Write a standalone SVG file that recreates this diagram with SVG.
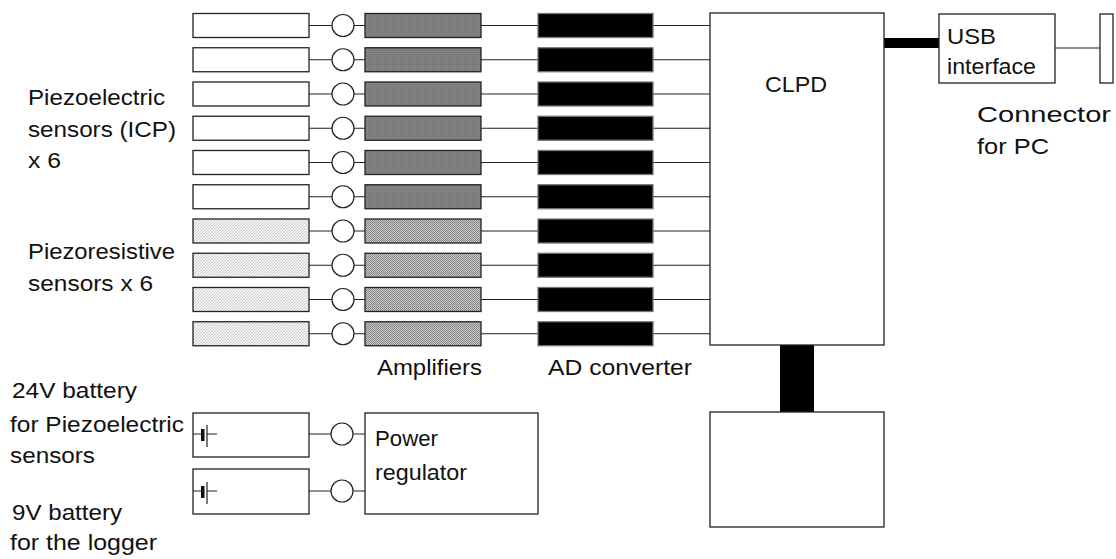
<svg xmlns="http://www.w3.org/2000/svg" width="1116" height="559" viewBox="0 0 1116 559">
<style>
.t{font-family:"Liberation Sans",Arial,sans-serif;font-size:22.5px;fill:#111}
.box{stroke:#222;stroke-width:1.3}
.w{fill:#fff}
.sens{fill:url(#hatch)}
.ampd{fill:url(#dots1)}
.ampl{fill:url(#dots2)}
.ad{fill:#000;stroke:#777;stroke-width:1.3}
.ln{stroke:#222;stroke-width:1.2;fill:none}
.c{fill:#fff;stroke:#222;stroke-width:1.2}
</style>
<defs>
<pattern id="hatch" width="3" height="3" patternUnits="userSpaceOnUse">
<rect width="3" height="3" fill="#f4f4f4"/>
<path d="M0,3 L3,0" stroke="#c2c2c2" stroke-width="0.8"/>
</pattern>
<pattern id="dots1" width="2" height="2" patternUnits="userSpaceOnUse">
<rect width="2" height="2" fill="#838383"/>
<rect width="1" height="1" fill="#717171"/>
</pattern>
<pattern id="dots2" width="2" height="2" patternUnits="userSpaceOnUse">
<rect width="2" height="2" fill="#c8c8c8"/>
<rect width="1" height="1" fill="#7e7e7e"/>
<rect x="1" y="1" width="1" height="1" fill="#909090"/>
</pattern>
</defs>
<rect width="1116" height="559" fill="#fff"/>

<g id="connectors">
<g class="ln">
<path d="M309,25.5H332M354,25.5H365M481,25.5H538M653,25.5H710"/>
<path d="M309,59.75H332M354,59.75H365M481,59.75H538M653,59.75H710"/>
<path d="M309,94H332M354,94H365M481,94H538M653,94H710"/>
<path d="M309,128.25H332M354,128.25H365M481,128.25H538M653,128.25H710"/>
<path d="M309,162.5H332M354,162.5H365M481,162.5H538M653,162.5H710"/>
<path d="M309,196.75H332M354,196.75H365M481,196.75H538M653,196.75H710"/>
<path d="M309,231H332M354,231H365M481,231H538M653,231H710"/>
<path d="M309,265.25H332M354,265.25H365M481,265.25H538M653,265.25H710"/>
<path d="M309,299.5H332M354,299.5H365M481,299.5H538M653,299.5H710"/>
<path d="M309,333.75H332M354,333.75H365M481,333.75H538M653,333.75H710"/>
<path d="M309,434H331M353,434H365"/>
<path d="M309,491H331M353,491H365"/>
<path d="M1055,48H1100"/>
</g>
<rect x="884" y="38" width="55" height="10" fill="#000"/>
<rect x="780" y="345" width="34" height="67" fill="#000"/>
<g id="junctions">
<circle class="c" cx="343" cy="25.5" r="11"/>
<circle class="c" cx="343" cy="59.75" r="11"/>
<circle class="c" cx="343" cy="94" r="11"/>
<circle class="c" cx="343" cy="128.25" r="11"/>
<circle class="c" cx="343" cy="162.5" r="11"/>
<circle class="c" cx="343" cy="196.75" r="11"/>
<circle class="c" cx="343" cy="231" r="11"/>
<circle class="c" cx="343" cy="265.25" r="11"/>
<circle class="c" cx="343" cy="299.5" r="11"/>
<circle class="c" cx="343" cy="333.75" r="11"/>
<circle class="c" cx="342" cy="434" r="11"/>
<circle class="c" cx="342" cy="491" r="11"/>
</g>
</g>

<g id="sensors">
<rect class="box w" x="193" y="13.5" width="116" height="24"/>
<rect class="box w" x="193" y="47.75" width="116" height="24"/>
<rect class="box w" x="193" y="82" width="116" height="24"/>
<rect class="box w" x="193" y="116.25" width="116" height="24"/>
<rect class="box w" x="193" y="150.5" width="116" height="24"/>
<rect class="box w" x="193" y="184.75" width="116" height="24"/>
<rect class="box sens" x="193" y="219" width="116" height="24"/>
<rect class="box sens" x="193" y="253.25" width="116" height="24"/>
<rect class="box sens" x="193" y="287.5" width="116" height="24"/>
<rect class="box sens" x="193" y="321.75" width="116" height="24"/>
</g>

<g id="amplifiers">
<rect class="box ampd" x="365" y="13.5" width="116" height="24"/>
<rect class="box ampd" x="365" y="47.75" width="116" height="24"/>
<rect class="box ampd" x="365" y="82" width="116" height="24"/>
<rect class="box ampd" x="365" y="116.25" width="116" height="24"/>
<rect class="box ampd" x="365" y="150.5" width="116" height="24"/>
<rect class="box ampd" x="365" y="184.75" width="116" height="24"/>
<rect class="box ampl" x="365" y="219" width="116" height="24"/>
<rect class="box ampl" x="365" y="253.25" width="116" height="24"/>
<rect class="box ampl" x="365" y="287.5" width="116" height="24"/>
<rect class="box ampl" x="365" y="321.75" width="116" height="24"/>
</g>

<g id="ad-converters">
<rect class="ad" x="538" y="13.5" width="115" height="24"/>
<rect class="ad" x="538" y="47.75" width="115" height="24"/>
<rect class="ad" x="538" y="82" width="115" height="24"/>
<rect class="ad" x="538" y="116.25" width="115" height="24"/>
<rect class="ad" x="538" y="150.5" width="115" height="24"/>
<rect class="ad" x="538" y="184.75" width="115" height="24"/>
<rect class="ad" x="538" y="219" width="115" height="24"/>
<rect class="ad" x="538" y="253.25" width="115" height="24"/>
<rect class="ad" x="538" y="287.5" width="115" height="24"/>
<rect class="ad" x="538" y="321.75" width="115" height="24"/>
</g>

<g id="clpd">
<rect class="box w" x="710" y="13" width="174" height="332"/>
<text class="t" x="765" y="92" textLength="62" lengthAdjust="spacingAndGlyphs">CLPD</text>
</g>

<g id="logger">
<rect class="box w" x="710" y="412" width="174" height="115"/>
</g>

<g id="usb">
<rect class="box w" x="939" y="14" width="116" height="69"/>
<text class="t" x="947" y="44" textLength="49" lengthAdjust="spacingAndGlyphs">USB</text>
<text class="t" x="947" y="74" textLength="89" lengthAdjust="spacingAndGlyphs">interface</text>
</g>

<g id="pc-connector">
<rect class="box w" x="1100" y="14" width="13" height="69"/>
<text class="t" x="977" y="122" textLength="134" lengthAdjust="spacingAndGlyphs">Connector</text>
<text class="t" x="977" y="154" textLength="72" lengthAdjust="spacingAndGlyphs">for PC</text>
</g>

<g id="battery24">
<rect class="box w" x="193" y="413" width="116" height="44"/>
<path class="ln" d="M193,434H202M207,434H217M207,425V447"/>
<rect x="201" y="429" width="3.5" height="12" fill="#111"/>
</g>

<g id="battery9">
<rect class="box w" x="193" y="469" width="116" height="45"/>
<path class="ln" d="M193,491H202M207,491H217M207,482V504"/>
<rect x="201" y="486" width="3.5" height="12" fill="#111"/>
</g>

<g id="power-regulator">
<rect class="box w" x="365" y="413" width="173" height="101"/>
<text class="t" x="375" y="446" textLength="63" lengthAdjust="spacingAndGlyphs">Power</text>
<text class="t" x="375" y="480" textLength="92" lengthAdjust="spacingAndGlyphs">regulator</text>
</g>

<g id="labels">
<text class="t" x="28" y="105" textLength="137" lengthAdjust="spacingAndGlyphs">Piezoelectric</text>
<text class="t" x="28" y="137" textLength="148" lengthAdjust="spacingAndGlyphs">sensors (ICP)</text>
<text class="t" x="28" y="168" textLength="33" lengthAdjust="spacingAndGlyphs">x 6</text>
<text class="t" x="28" y="259" textLength="147" lengthAdjust="spacingAndGlyphs">Piezoresistive</text>
<text class="t" x="28" y="291" textLength="125" lengthAdjust="spacingAndGlyphs">sensors x 6</text>
<text class="t" x="377" y="375" textLength="105" lengthAdjust="spacingAndGlyphs">Amplifiers</text>
<text class="t" x="548" y="375" textLength="144" lengthAdjust="spacingAndGlyphs">AD converter</text>
<text class="t" x="12" y="398" textLength="125" lengthAdjust="spacingAndGlyphs">24V battery</text>
<text class="t" x="10" y="432" textLength="174" lengthAdjust="spacingAndGlyphs">for Piezoelectric</text>
<text class="t" x="10" y="463" textLength="85" lengthAdjust="spacingAndGlyphs">sensors</text>
<text class="t" x="12" y="520" textLength="110" lengthAdjust="spacingAndGlyphs">9V battery</text>
<text class="t" x="10" y="550" textLength="147" lengthAdjust="spacingAndGlyphs">for the logger</text>
</g>
</svg>
